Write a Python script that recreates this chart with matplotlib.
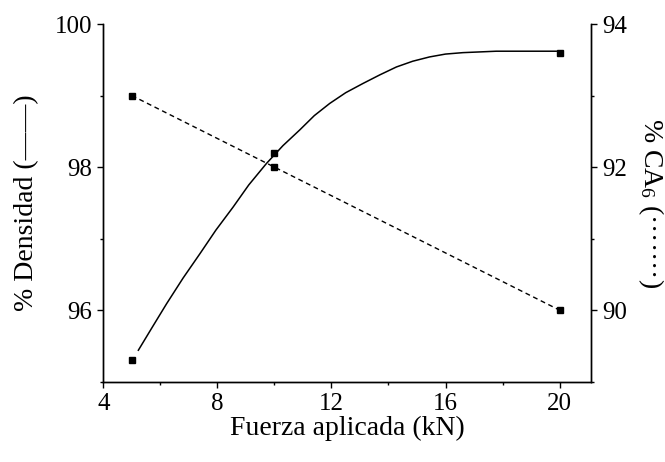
import matplotlib
matplotlib.use("Agg")
import matplotlib.pyplot as plt
from matplotlib.ticker import MultipleLocator

plt.rcParams['font.family'] = ['Liberation Serif', 'DejaVu Serif']
plt.rcParams['mathtext.fontset'] = 'custom'
plt.rcParams['mathtext.rm'] = 'Liberation Serif'
plt.rcParams['mathtext.it'] = 'Liberation Serif:italic'

# measured points
fuerza = [5, 10, 20]
densidad = [95.3, 98.2, 99.6]
ca6 = [93.0, 92.0, 90.0]

# fitted density curve
curva_x = [5.23, 5.7, 6.22, 6.8, 7.39, 7.95, 8.55, 9.1, 9.72, 10.3, 10.89,
           11.4, 11.94, 12.5, 13.11, 13.7, 14.28, 14.85, 15.44, 16.0,
           16.61, 17.2, 17.78, 18.5, 19.2, 19.88]
curva_y = [95.44, 95.75, 96.09, 96.45, 96.79, 97.12, 97.44, 97.75, 98.05,
           98.30, 98.52, 98.72, 98.89, 99.04, 99.17, 99.29, 99.40, 99.48,
           99.54, 99.58, 99.60, 99.61, 99.62, 99.62, 99.62, 99.62]

fig = plt.figure(figsize=(6.65, 4.62), dpi=100)
ax = fig.add_axes([0.1553, 0.1738, 0.7334, 0.7742])
ax2 = ax.twinx()

ax.plot(curva_x, curva_y, color='black', lw=1.1)
ax.plot(fuerza, densidad, 's', color='black', ms=4, ls='none')
ax2.plot(fuerza, ca6, color='black', lw=1.0, ls=(0, (3.5, 2.6)),
         marker='s', ms=4)

ax.set_xlim(4, 21.1)
ax.set_ylim(95, 100)
ax2.set_ylim(89, 94)

ax.xaxis.set_major_locator(MultipleLocator(4))
ax.xaxis.set_minor_locator(MultipleLocator(2))
ax.yaxis.set_minor_locator(MultipleLocator(1))
ax2.yaxis.set_minor_locator(MultipleLocator(1))
ax.set_yticks([96, 98, 100])
ax2.set_yticks([90, 92, 94])

for a in (ax, ax2):
    a.spines['top'].set_visible(False)
    for s in a.spines.values():
        s.set_linewidth(1.0)
    a.tick_params(which='major', direction='out', length=4, width=1.0,
                  labelsize=18, pad=4)
    a.tick_params(which='minor', direction='out', length=2.2, width=1.0)

ax.set_xlabel('Fuerza aplicada (kN)', fontsize=20, labelpad=1)
ax.set_ylabel('% Densidad (\u2014\u2014)', fontsize=20, labelpad=11)
ax2.set_ylabel('% CA$_{6}$ (\u00b7\u00b7\u00b7\u00b7\u00b7\u00b7\u00b7)', fontsize=20,
               rotation=270, labelpad=28)

fig.savefig('out.png', dpi=100)
